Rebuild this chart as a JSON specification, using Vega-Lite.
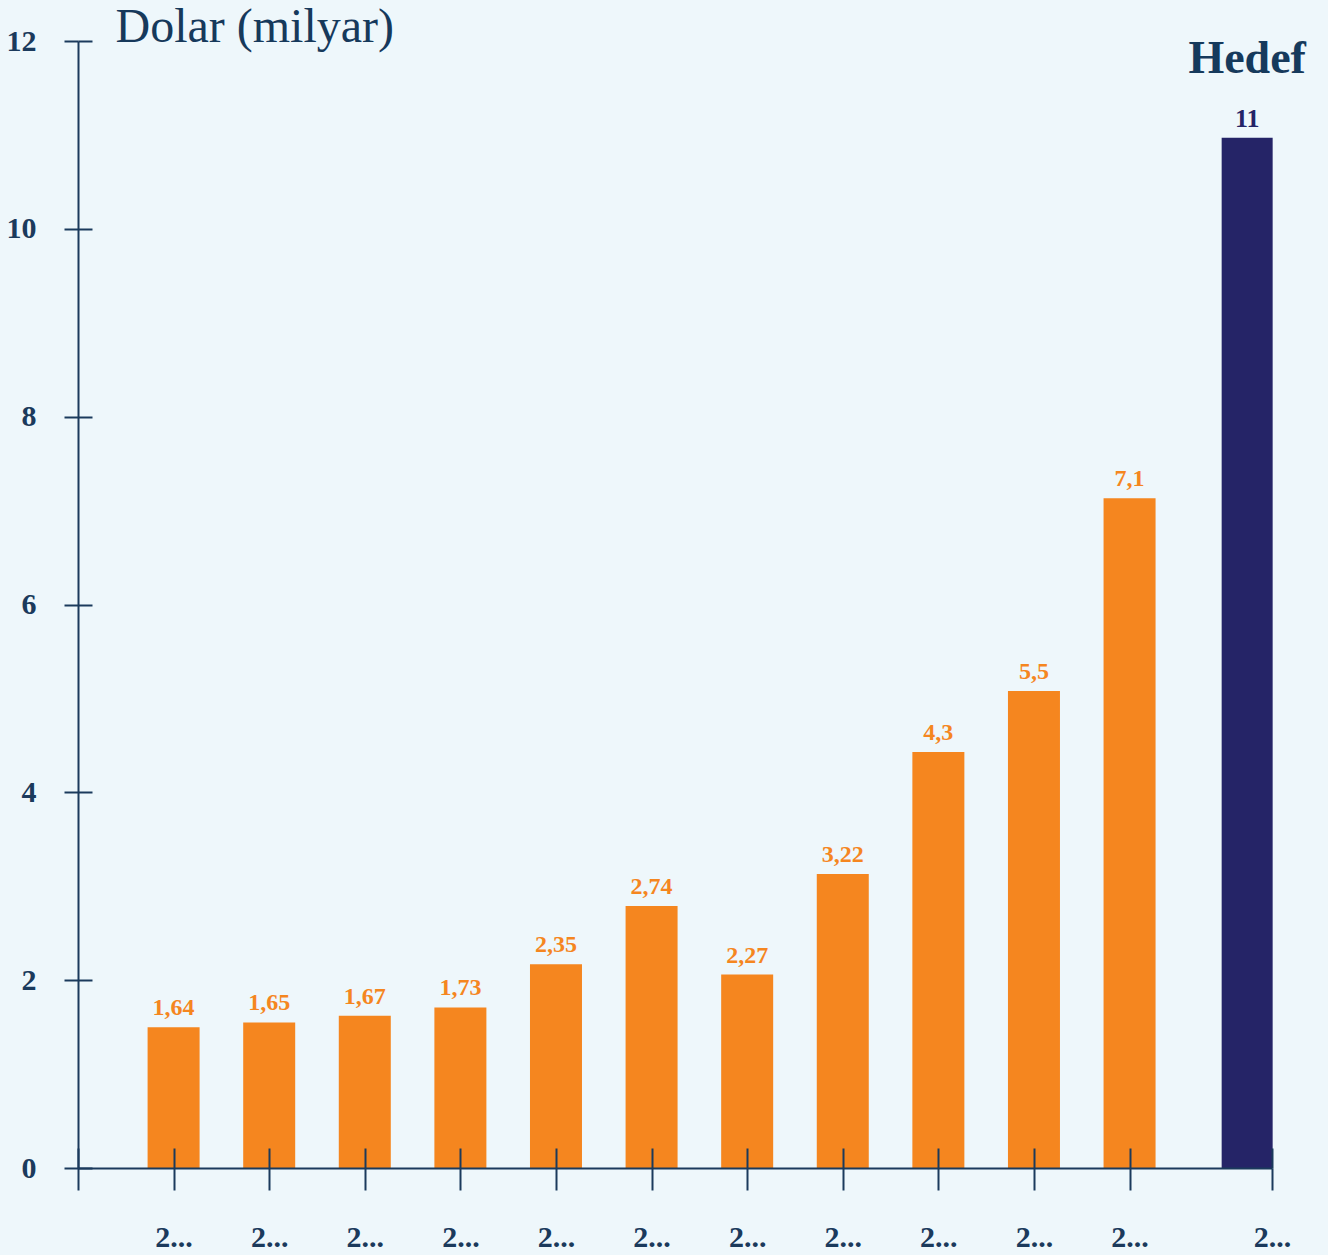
{
  "$schema": "https://vega.github.io/schema/vega-lite/v6.json",
  "autosize": {"type": "none"},
  "padding": {"left": 78, "top": 41, "right": 56, "bottom": 87},
  "width": 1194,
  "height": 1127,
  "background": "#eef7fb",
  "config": {"view": {"stroke": null}, "axis": {"grid": false}},
  "data": {"values": [
    {"sira": 1, "deger": 1.50, "etiket": "1,64", "tur": "Gerçekleşen"},
    {"sira": 2, "deger": 1.55, "etiket": "1,65", "tur": "Gerçekleşen"},
    {"sira": 3, "deger": 1.62, "etiket": "1,67", "tur": "Gerçekleşen"},
    {"sira": 4, "deger": 1.71, "etiket": "1,73", "tur": "Gerçekleşen"},
    {"sira": 5, "deger": 2.17, "etiket": "2,35", "tur": "Gerçekleşen"},
    {"sira": 6, "deger": 2.79, "etiket": "2,74", "tur": "Gerçekleşen"},
    {"sira": 7, "deger": 2.06, "etiket": "2,27", "tur": "Gerçekleşen"},
    {"sira": 8, "deger": 3.13, "etiket": "3,22", "tur": "Gerçekleşen"},
    {"sira": 9, "deger": 4.43, "etiket": "4,3", "tur": "Gerçekleşen"},
    {"sira": 10, "deger": 5.08, "etiket": "5,5", "tur": "Gerçekleşen"},
    {"sira": 11, "deger": 7.13, "etiket": "7,1", "tur": "Gerçekleşen"},
    {"sira": 12, "deger": 10.97, "etiket": "11", "tur": "Hedef"}
  ]},
  "resolve": {"axis": {"x": "independent", "y": "independent"}},
  "layer": [
    {
      "transform": [{"filter": "datum.tur == 'Gerçekleşen'"}],
      "mark": {"type": "bar", "width": 52, "color": "#f5861f"},
      "encoding": {
        "x": {"field": "sira", "type": "quantitative",
          "scale": {"domain": [0, 12.49], "nice": false, "zero": false, "padding": 0},
          "axis": {"orient": "bottom", "title": null, "zindex": 1,
            "values": [0, 1, 2, 3, 4, 5, 6, 7, 8, 9, 10, 11, 12.49],
            "labelExpr": "datum.value == 0 ? '' : '2...'",
            "tickSize": 22, "tickWidth": 2, "tickColor": "#1b3a5c",
            "domainColor": "#1b3a5c", "domainWidth": 2,
            "labelFont": "Liberation Serif", "labelFontWeight": "bold", "labelFontSize": 30,
            "labelColor": "#1b3a5c", "labelBaseline": "alphabetic", "labelPadding": 56,
            "labelFlush": false, "labelOverlap": false}},
        "y": {"field": "deger", "type": "quantitative",
          "scale": {"domain": [0, 12], "nice": false, "padding": 0},
          "axis": {"orient": "left", "zindex": 1,
            "values": [0, 2, 4, 6, 8, 10, 12],
            "tickSize": 14, "tickWidth": 2, "tickColor": "#1b3a5c",
            "domainColor": "#1b3a5c", "domainWidth": 2,
            "labelFont": "Liberation Serif", "labelFontWeight": "bold", "labelFontSize": 30,
            "labelColor": "#1b3a5c", "labelPadding": 28, "labelFlush": false, "labelOverlap": false,
            "title": "Dolar (milyar)", "titleAngle": 0, "titleAlign": "left", "titleBaseline": "alphabetic",
            "titleX": 37, "titleY": 0, "titleFont": "Liberation Serif", "titleFontWeight": "normal",
            "titleFontSize": 48, "titleColor": "#16395b"}}
      }
    },
    {
      "transform": [{"filter": "datum.tur == 'Hedef'"}],
      "mark": {"type": "bar", "width": 51, "xOffset": 22, "color": "#252467"},
      "encoding": {
        "x": {"field": "sira", "type": "quantitative", "axis": null},
        "y": {"field": "deger", "type": "quantitative", "axis": null}
      }
    },
    {
      "transform": [{"filter": "datum.tur == 'Gerçekleşen'"}],
      "mark": {"type": "text", "dy": -12, "baseline": "alphabetic", "font": "Liberation Serif", "fontWeight": "bold", "fontSize": 24, "color": "#f5861f"},
      "encoding": {
        "x": {"field": "sira", "type": "quantitative",
          "axis": {"orient": "bottom", "title": null, "zindex": 1,
            "values": [0, 1, 2, 3, 4, 5, 6, 7, 8, 9, 10, 11, 12.49],
            "tickSize": -20, "tickWidth": 2, "tickColor": "#1b3a5c",
            "labels": false, "domain": false}},
        "y": {"field": "deger", "type": "quantitative",
          "axis": {"orient": "left", "title": null, "zindex": 1,
            "values": [0, 2, 4, 6, 8, 10, 12],
            "tickSize": -14, "tickWidth": 2, "tickColor": "#1b3a5c",
            "labels": false, "domain": false}},
        "text": {"field": "etiket"}
      }
    },
    {
      "transform": [{"filter": "datum.tur == 'Hedef'"}],
      "mark": {"type": "text", "dy": -11, "xOffset": 22, "baseline": "alphabetic", "font": "Liberation Serif", "fontWeight": "bold", "fontSize": 26, "color": "#252467"},
      "encoding": {
        "x": {"field": "sira", "type": "quantitative", "axis": null},
        "y": {"field": "deger", "type": "quantitative", "axis": null},
        "text": {"field": "etiket"}
      }
    },
    {
      "transform": [{"filter": "datum.tur == 'Hedef'"}],
      "mark": {"type": "text", "dy": 32, "xOffset": 22, "baseline": "alphabetic", "font": "Liberation Serif", "fontWeight": "bold", "fontSize": 46, "color": "#163a5c"},
      "encoding": {
        "x": {"field": "sira", "type": "quantitative", "axis": null},
        "y": {"datum": 12, "type": "quantitative", "axis": null},
        "text": {"field": "tur"}
      }
    }
  ]
}
